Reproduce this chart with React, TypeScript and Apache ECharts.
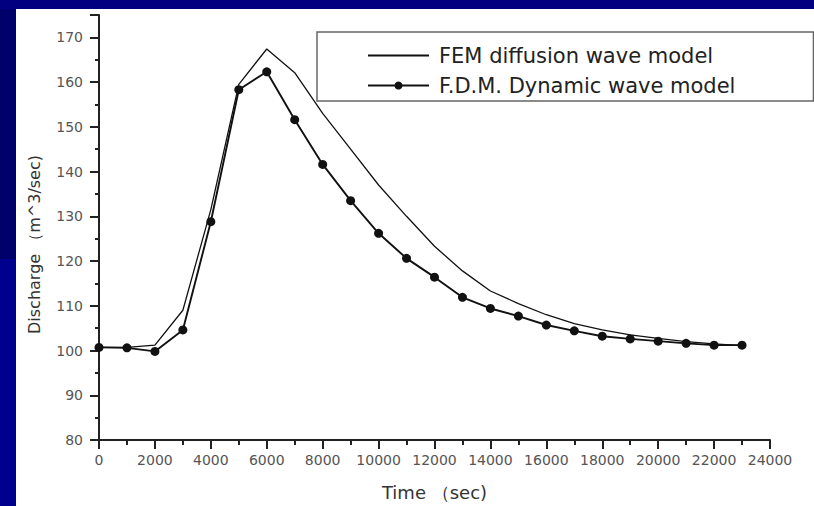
import React, { useEffect, useRef } from "react";
import * as echarts from "echarts";

const times = [0, 1000, 2000, 3000, 4000, 5000, 6000, 7000, 8000, 9000, 10000, 11000, 12000, 13000, 14000, 15000, 16000, 17000, 18000, 19000, 20000, 21000, 22000, 23000];
const femDiffusion = [100.7, 100.7, 101.2, 109.0, 131.5, 159.5, 167.4, 162.1, 153.0, 145.0, 137.0, 130.0, 123.3, 117.8, 113.3, 110.5, 108.0, 106.0, 104.6, 103.5, 102.7, 102.0, 101.5, 101.1];
const fdmDynamic = [100.7, 100.6, 99.8, 104.6, 128.8, 158.3, 162.3, 151.6, 141.6, 133.5, 126.2, 120.6, 116.4, 111.9, 109.4, 107.7, 105.7, 104.4, 103.2, 102.6, 102.1, 101.6, 101.2, 101.2];
const seriesNames = ["FEM diffusion wave model", "F.D.M. Dynamic wave model"];
const xAxisTitle = "Time （sec)";
const yAxisTitle = "Discharge （m^3/sec)";

export default function App() {
  const ref = useRef<HTMLDivElement>(null);
  useEffect(() => {
    document.body.style.margin = "0";
    document.body.style.background = "#ffffff";
    document.documentElement.style.background = "#ffffff";
    if (!ref.current) return;
    const chart = echarts.init(ref.current, null, { renderer: "svg" });
    const font = "'DejaVu Sans', Arial, sans-serif";
    chart.setOption({
      animation: false,
      backgroundColor: "transparent",
      grid: { left: 99, right: 44, top: 15, bottom: 65, containLabel: false },
      legend: {
        orient: "vertical",
        left: 317,
        top: 32,
        padding: [13, 78, 5, 50],
        itemGap: 9,
        itemWidth: 61,
        itemHeight: 10,
        borderColor: "#666",
        borderWidth: 1.5,
        textStyle: { fontFamily: font, fontSize: 21, color: "#222", lineHeight: 20, padding: [0, 0, 0, 5] },
        data: [
          { name: seriesNames[0], itemStyle: { opacity: 0 } },
          { name: seriesNames[1] },
        ],
      },
      xAxis: {
        type: "value",
        min: 0,
        max: 24000,
        interval: 2000,
        name: xAxisTitle,
        nameLocation: "middle",
        nameGap: 43,
        nameTextStyle: { fontFamily: font, fontSize: 18, color: "#333" },
        axisLine: { lineStyle: { color: "#222", width: 2 } },
        axisTick: { inside: false, length: 9, lineStyle: { color: "#222", width: 2 } },
        minorTick: { show: true, splitNumber: 2, length: 5, lineStyle: { color: "#222", width: 2 } },
        axisLabel: { fontFamily: font, fontSize: 14, color: "#555", margin: 13, formatter: (v: number) => String(v) },
        splitLine: { show: false },
      },
      yAxis: {
        type: "value",
        min: 80,
        max: 175,
        interval: 10,
        name: yAxisTitle,
        nameLocation: "middle",
        nameGap: 57,
        nameRotate: 90,
        nameTextStyle: { fontFamily: font, fontSize: 16, color: "#333", padding: [0, 34, 0, 0] },
        axisLine: { lineStyle: { color: "#222", width: 2 } },
        axisTick: { inside: false, length: 9, lineStyle: { color: "#222", width: 2 } },
        minorTick: { show: true, splitNumber: 2, length: 4, lineStyle: { color: "#222", width: 2 } },
        axisLabel: { fontFamily: font, fontSize: 14, color: "#555", margin: 16, showMaxLabel: false, formatter: (v: number) => String(v) },
        splitLine: { show: false },
      },
      series: [
        {
          name: seriesNames[0],
          type: "line",
          data: times.map((t, i) => [t, femDiffusion[i]]),
          symbol: "none",
          lineStyle: { color: "#111", width: 1.3 },
          itemStyle: { color: "#111" },
        },
        {
          name: seriesNames[1],
          type: "line",
          data: times.map((t, i) => [t, fdmDynamic[i]]),
          symbol: "circle",
          symbolSize: 9,
          lineStyle: { color: "#111", width: 1.9 },
          itemStyle: { color: "#111" },
        },
      ],
    });
    return () => chart.dispose();
  }, []);
  return (
    <div style={{ position: "fixed", left: 0, top: 0, width: 814, height: 506, background: "#ffffff", overflow: "hidden" }}>
      <div style={{ position: "absolute", left: 0, top: 0, width: 814, height: 9, background: "#000080" }} />
      <div style={{ position: "absolute", left: 0, top: 9, width: 16, height: 250, background: "#00006a" }} />
      <div style={{ position: "absolute", left: 0, top: 259, width: 16, height: 247, background: "#00008e" }} />
      <div ref={ref} style={{ position: "absolute", left: 0, top: 0, width: 814, height: 506 }} />
    </div>
  );
}
